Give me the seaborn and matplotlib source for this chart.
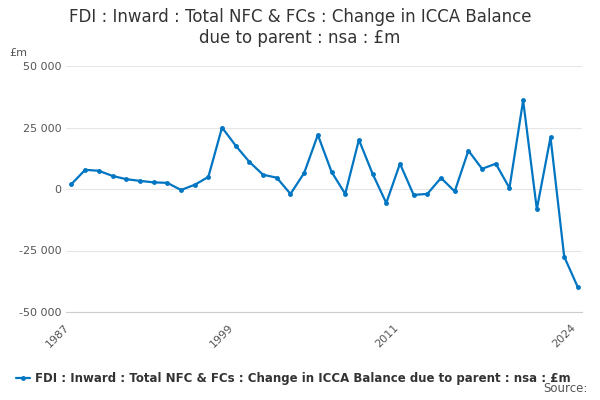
import matplotlib
matplotlib.use("Agg")
import matplotlib.pyplot as plt
import seaborn as sns
import pandas as pd

years = list(range(1987, 2025))
values = [2000, 7800, 7400, 5300, 4000, 3300, 2700, 2500, -400, 1700, 4900,
          25000, 17600, 11000, 5800, 4600, -2000, 6500, 22000, 7000, -2000,
          20000, 6200, -5700, 10300, -2400, -2000, 4500, -1000, 15600, 8200,
          10300, 400, 36000, -8200, 21000, -27500, -40000]
series_name = "FDI : Inward : Total NFC & FCs : Change in ICCA Balance due to parent : nsa : £m"

df = pd.DataFrame({"year": years, "value": values})

sns.set_style("white")
plt.rcParams["font.family"] = ["DejaVu Sans"]
fig, ax = plt.subplots(figsize=(6, 4), dpi=100)
fig.subplots_adjust(left=0.11, right=0.97, top=0.835, bottom=0.22)

sns.lineplot(data=df, x="year", y="value", ax=ax, color="#0075c2", marker="o",
             markersize=3.5, markeredgewidth=0, linewidth=1.6, label=series_name)

ax.set_ylim(-50000, 50000)
ax.set_yticks([-50000, -25000, 0, 25000, 50000])
ax.set_yticklabels(["-50 000", "-25 000", "0", "25 000", "50 000"], fontsize=8, color="#555555")
ax.set_xlim(1986.6, 2024.3)
ax.set_xticks([1987, 1999, 2011, 2024])
ax.set_xticklabels(["1987", "1999", "2011", "2024"], rotation=45, ha="right", fontsize=8, color="#555555")
ax.set_xticks(years, minor=True)
ax.tick_params(axis="x", which="both", length=4, color="#cccccc")
ax.tick_params(axis="y", length=0)
ax.grid(axis="y", color="#e6e6e6", linewidth=0.8)
for s in ["top", "right", "left"]:
    ax.spines[s].set_visible(False)
ax.spines["bottom"].set_color("#cccccc")
ax.set_xlabel("")
ax.set_ylabel("")
ax.text(-0.11, 1.04, "£m", transform=ax.transAxes, fontsize=8, color="#555555")

fig.suptitle("FDI : Inward : Total NFC & FCs : Change in ICCA Balance\ndue to parent : nsa : £m",
             fontsize=12, color="#333333", y=0.98)
leg = ax.legend(loc="upper center", bbox_to_anchor=(0.44, -0.2), frameon=False,
                prop={"size": 8.5, "weight": "bold"}, handlelength=1.2, handletextpad=0.4)
for t in leg.get_texts():
    t.set_color("#333333")
fig.text(0.98, 0.02, "Source:", ha="right", fontsize=8.5, color="#555555")

fig.savefig("out.png", dpi=100)
